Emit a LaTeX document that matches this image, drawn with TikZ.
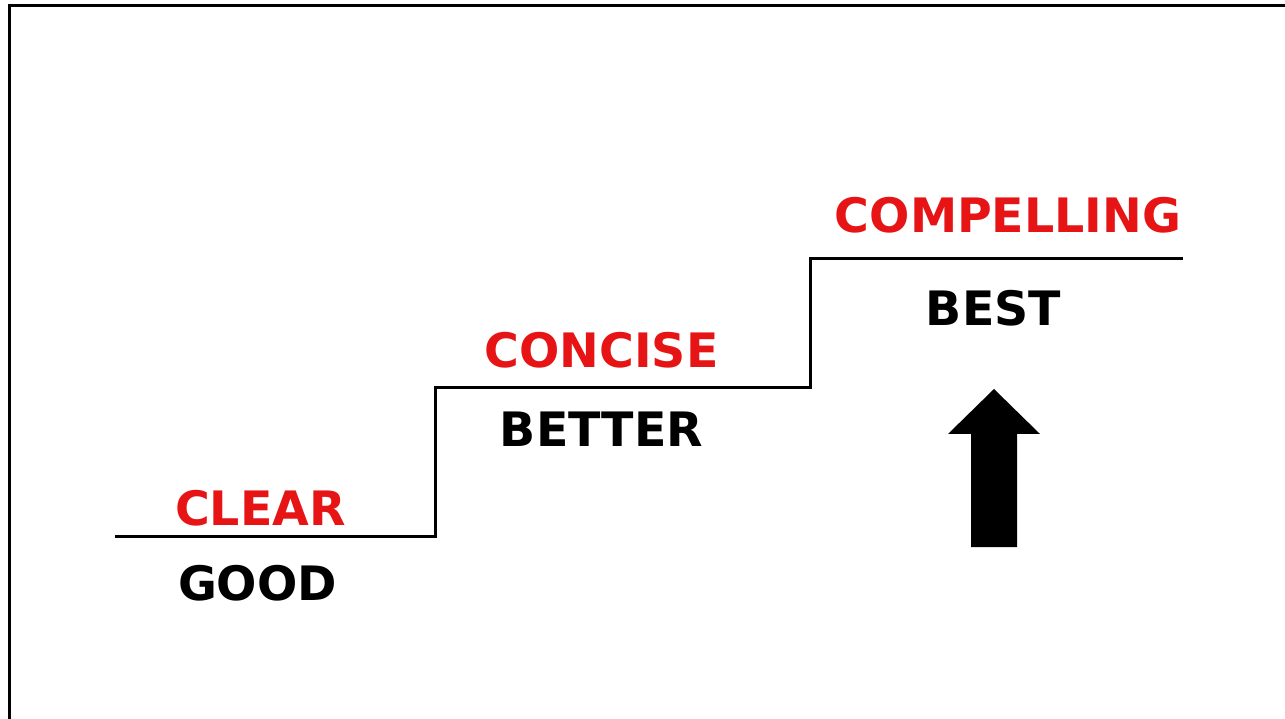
\documentclass[tikz,border=0pt]{standalone}
\usepackage{fontspec}
\setmainfont{DejaVu Sans}
\usepackage{tikz}
\usetikzlibrary{positioning}
\usepackage{xcolor}
\definecolor{labelred}{HTML}{E61414}
\tikzset{
  stairline/.style={line width=0.06cm, line join=miter},
  quality/.style={font=\fontsize{27}{30}\selectfont\bfseries, inner sep=0pt, anchor=base},
  goal/.style={quality, text=labelred},
  grade/.style={quality, text=black}
}

\begin{document}
\begin{tikzpicture}[x=0.02cm, y=-0.02cm]
    \useasboundingbox (0,0) rectangle (1285,719);
    \fill[white] (0,0) rectangle (1285,719);
    \draw[line width=0.06cm] (9.5,719) -- (9.5,6) -- (1285,6);

    \coordinate (s0) at (115,536);
    \coordinate (s1) at (435,536);
    \coordinate (s2) at (435,388);
    \coordinate (s3) at (810,388);
    \coordinate (s4) at (810,259);
    \coordinate (s5) at (1183,259);
    \draw[stairline] (s0) -- (s1) -- (s2) -- (s3) -- (s4) -- (s5);

    \node[goal] (clear) at (260.5,525) {CLEAR};
    \node[grade] (good) at (257.5,600) {GOOD};
    \node[goal] (concise) at (601.5,368) {CONCISE};
    \node[grade] (better) at (601.5,447) {BETTER};
    \node[goal] (compelling) at (1008,233) {COMPELLING};
    \node[grade] (best) at (993.5,326) {BEST};

    \fill (994,389) -- (1040,434) -- (1017,434) -- (1017,547)
        -- (971,547) -- (971,434) -- (948,434) -- cycle;
\end{tikzpicture}
\end{document}
